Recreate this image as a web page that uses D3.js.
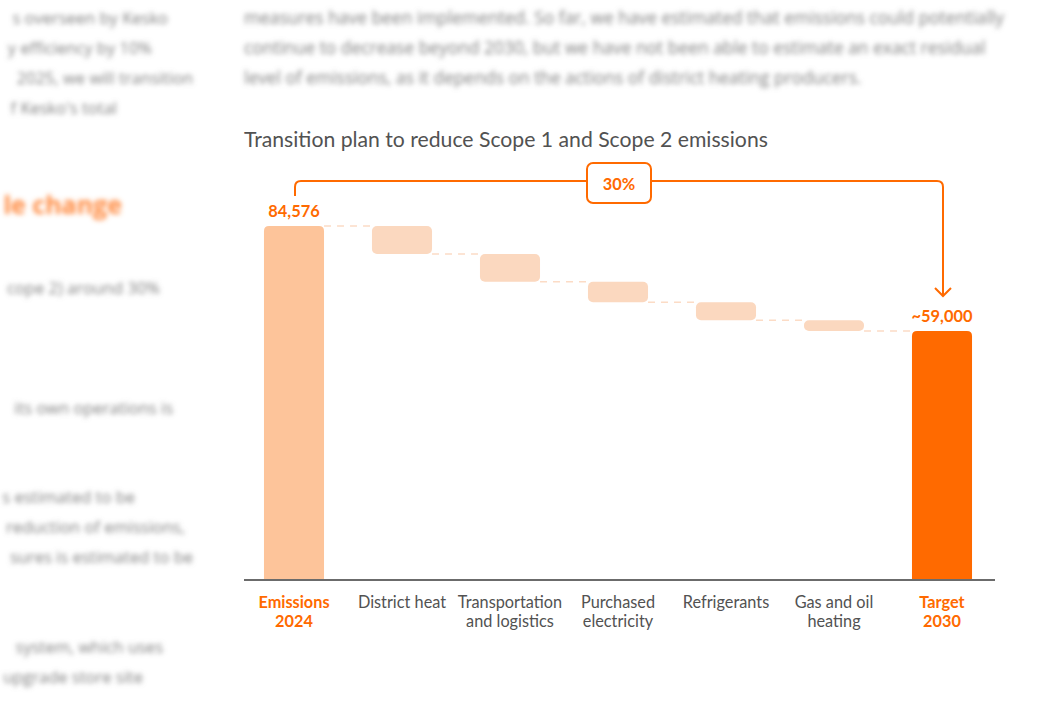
<!DOCTYPE html>
<html>
<head>
<meta charset="utf-8">
<script src="https://cdn.jsdelivr.net/npm/d3@7"></script>
<style>
  html, body { margin: 0; padding: 0; background: #fff; }
  svg { display: block; }
</style>
</head>
<body>
<svg id="chart" width="1046" height="708"></svg>
<script>
// chart data
const categories = ["Emissions 2024", "District heat", "Transportation and logistics",
    "Purchased electricity", "Refrigerants", "Gas and oil heating", "Target 2030"];
const categoryLines = [["Emissions", "2024"], ["District heat"], ["Transportation", "and logistics"],
    ["Purchased", "electricity"], ["Refrigerants"], ["Gas and oil", "heating"], ["Target", "2030"]];
const startValue = 84576;
const reductions = [6700, 6600, 4900, 4300, 2600];
const valueLabels = ["84,576", "~59,000"];
const reductionLabel = "30%";

// blurred page text around the chart (only the part inside the window)
const topText = [
    "measures have been implemented. So far, we have estimated that emissions could potentially",
    "continue to decrease beyond 2030, but we have not been able to estimate an exact residual",
    "level of emissions, as it depends on the actions of district heating producers."
];
const sideText = [
    { t: "s overseen by Kesko", y: 24, end: 168 },
    { t: "y efficiency by 10%", y: 54, end: 152 },
    { t: "2025, we will transition", y: 84, end: 193 },
    { t: "f Kesko's total", y: 114, end: 117 },
    { t: "le change", y: 214, end: 122, head: true },
    { t: "cope 2) around 30%", y: 294, end: 160 },
    { t: "its own operations is", y: 414, end: 173 },
    { t: "s estimated to be", y: 503, end: 135 },
    { t: "reduction of emissions,", y: 533, end: 185 },
    { t: "sures is estimated to be", y: 563, end: 193 },
    { t: "system, which uses", y: 653, end: 163 },
    { t: "upgrade store site", y: 683, end: 143 }
];

const ORANGE = "#ff6a00";
const GREY = "#525252";
const FONT = "Lato, 'Open Sans', sans-serif";

const svg = d3.select("#chart");

svg.append("defs").append("filter")
    .attr("id", "blur")
    .attr("x", "-10%").attr("y", "-50%").attr("width", "120%").attr("height", "200%")
    .append("feGaussianBlur")
    .attr("stdDeviation", 2.8);

const bg = svg.append("g").attr("filter", "url(#blur)")
    .style("font-family", "'Open Sans', sans-serif");

bg.selectAll("text.top")
    .data(topText)
    .enter()
    .append("text")
    .attr("class", "top")
    .attr("x", 244)
    .attr("y", (d, i) => 24 + i * 30)
    .attr("fill", "#808080")
    .style("font-size", "17.4px")
    .text(d => d);

bg.selectAll("text.side")
    .data(sideText)
    .enter()
    .append("text")
    .attr("class", "side")
    .attr("x", d => d.end)
    .attr("y", d => d.y)
    .attr("text-anchor", "end")
    .attr("fill", d => d.head ? "#ff8a40" : "#808080")
    .style("font-size", d => d.head ? "25px" : "16.5px")
    .style("font-weight", d => d.head ? "700" : "400")
    .text(d => d.t);

// waterfall segments
let running = startValue;
const segments = [{ cat: categories[0], top: startValue, bottom: 0, kind: "start" }];
reductions.forEach((r, i) => {
    segments.push({ cat: categories[i + 1], top: running, bottom: running - r, kind: "step" });
    running -= r;
});
segments.push({ cat: categories[6], top: running, bottom: 0, kind: "end" });

const baseY = 580;

const x = d3.scaleBand()
    .domain(categories)
    .range([240, 996])
    .paddingInner(0.444)
    .paddingOuter(0.222);

const y = d3.scaleLinear()
    .domain([0, startValue])
    .range([baseY, 226]);

const g = svg.append("g").style("font-family", FONT);

// title
g.append("text")
    .attr("x", 244)
    .attr("y", 147)
    .attr("fill", GREY)
    .style("font-size", "21.2px")
    .text("Transition plan to reduce Scope 1 and Scope 2 emissions");

// rect with rounded top corners only (bottom sits on the axis)
function topRounded(x0, y0, w, h, r) {
    r = Math.min(r, h / 2, w / 2);
    return `M${x0},${y0 + h}V${y0 + r}Q${x0},${y0} ${x0 + r},${y0}` +
        `H${x0 + w - r}Q${x0 + w},${y0} ${x0 + w},${y0 + r}V${y0 + h}Z`;
}

const bw = x.bandwidth();

// dashed connectors
const links = segments.slice(0, -1).map((s, i) => ({
    x1: x(s.cat) + bw,
    x2: x(segments[i + 1].cat),
    v: s.kind === "start" ? s.top : s.bottom
}));

g.selectAll("line.link")
    .data(links)
    .enter()
    .append("line")
    .attr("class", "link")
    .attr("x1", d => d.x1)
    .attr("x2", d => d.x2)
    .attr("y1", d => y(d.v))
    .attr("y2", d => y(d.v))
    .attr("stroke", "#fcdcc6")
    .attr("stroke-width", 1.5)
    .attr("stroke-dasharray", "7,6");

// start and target bars
g.selectAll("path.bar")
    .data(segments.filter(d => d.kind !== "step"))
    .enter()
    .append("path")
    .attr("class", "bar")
    .attr("d", d => topRounded(x(d.cat), y(d.top), bw, y(d.bottom) - y(d.top), 5))
    .attr("fill", d => d.kind === "start" ? "#fdc49a" : ORANGE);

// floating reduction steps
g.selectAll("rect.step")
    .data(segments.filter(d => d.kind === "step"))
    .enter()
    .append("rect")
    .attr("class", "step")
    .attr("x", d => x(d.cat))
    .attr("y", d => y(d.top))
    .attr("width", bw)
    .attr("height", d => y(d.bottom) - y(d.top))
    .attr("rx", 5)
    .attr("fill", "#fbd8bf");

// axis line
g.append("line")
    .attr("x1", 244)
    .attr("x2", 995)
    .attr("y1", baseY)
    .attr("y2", baseY)
    .attr("stroke", "#6b6b6b")
    .attr("stroke-width", 2);

// category labels
const cats = g.selectAll("text.cat")
    .data(categories)
    .enter()
    .append("text")
    .attr("class", "cat")
    .attr("x", d => x(d) + bw / 2)
    .attr("y", 608)
    .attr("text-anchor", "middle")
    .attr("fill", (d, i) => (i === 0 || i === 6) ? ORANGE : GREY)
    .style("font-weight", (d, i) => (i === 0 || i === 6) ? "700" : "400")
    .style("font-size", "16.3px");

cats.selectAll("tspan")
    .data((d, i) => categoryLines[i])
    .enter()
    .append("tspan")
    .attr("x", function () { return d3.select(this.parentNode).attr("x"); })
    .attr("dy", (d, i) => i === 0 ? 0 : 19)
    .text(d => d);

// value labels
const first = segments[0], last = segments[segments.length - 1];
g.selectAll("text.val")
    .data([first, last])
    .enter()
    .append("text")
    .attr("class", "val")
    .attr("x", d => x(d.cat) + bw / 2)
    .attr("y", d => y(d.top) - 9)
    .attr("text-anchor", "middle")
    .attr("fill", ORANGE)
    .style("font-weight", "700")
    .style("font-size", "16.4px")
    .text((d, i) => valueLabels[i]);

// bracket with arrow from start to target
const bx1 = x(first.cat) + bw / 2 + 1,
    bx2 = x(last.cat) + bw / 2 + 1,
    bTop = y(first.top) - 45,
    bStart = y(first.top) - 30,
    bTip = y(last.top) - 35,
    cr = 6;

g.append("path")
    .attr("d", `M${bx1},${bStart}V${bTop + cr}Q${bx1},${bTop} ${bx1 + cr},${bTop}` +
        `H${bx2 - cr}Q${bx2},${bTop} ${bx2},${bTop + cr}V${bTip}`)
    .attr("fill", "none")
    .attr("stroke", ORANGE)
    .attr("stroke-width", 2);

g.append("path")
    .attr("d", `M${bx2 - 8},${bTip - 8}L${bx2},${bTip}L${bx2 + 8},${bTip - 8}`)
    .attr("fill", "none")
    .attr("stroke", ORANGE)
    .attr("stroke-width", 2);

const mid = (bx1 + bx2) / 2;
g.append("rect")
    .attr("x", mid - 32)
    .attr("y", bTop - 18)
    .attr("width", 64)
    .attr("height", 40)
    .attr("rx", 6)
    .attr("fill", "#fff")
    .attr("stroke", ORANGE)
    .attr("stroke-width", 2);

g.append("text")
    .attr("x", mid)
    .attr("y", bTop + 9)
    .attr("text-anchor", "middle")
    .attr("fill", ORANGE)
    .style("font-weight", "700")
    .style("font-size", "16.4px")
    .text(reductionLabel);
</script>
</body>
</html>
